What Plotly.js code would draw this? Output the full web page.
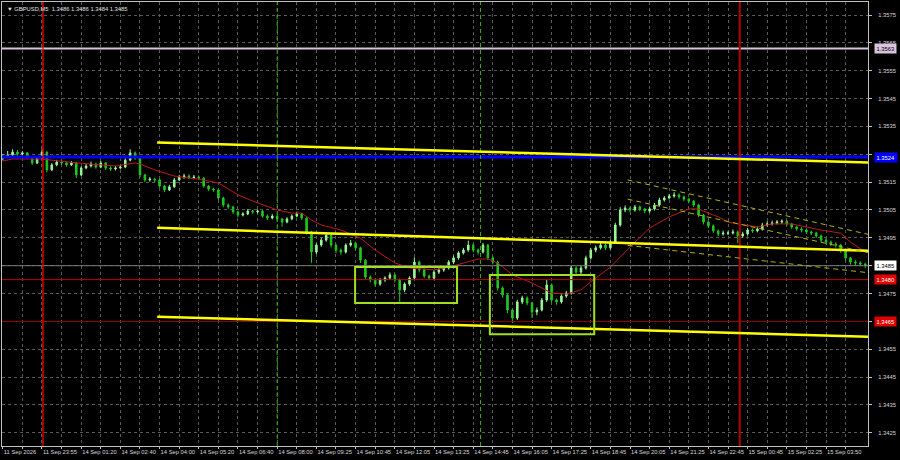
<!DOCTYPE html>
<html>
<head>
<meta charset="utf-8">
<script src="https://cdn.plot.ly/plotly-3.0.1.min.js"></script>
<style>html,body{margin:0;padding:0;background:#000;}#chart{width:900px;height:460px;}</style>
</head>
<body>
<div id="chart"></div>
<script>
// ---- data (10-minute bars, GBPUSD) ----
const timeLabels = ["11 Sep 2026","11 Sep 23:55","14 Sep 01:20","14 Sep 02:40","14 Sep 04:00","14 Sep 05:20","14 Sep 06:40","14 Sep 08:00","14 Sep 09:25","14 Sep 10:45","14 Sep 12:05","14 Sep 13:25","14 Sep 14:45","14 Sep 16:05","14 Sep 17:25","14 Sep 18:45","14 Sep 20:05","14 Sep 21:25","14 Sep 22:45","15 Sep 00:45","15 Sep 02:25","15 Sep 03:50"];
const timeLabelBars = [0,8,16,24,32,40,48,56,64,72,80,88,96,104,112,120,128,136,144,152,160,168];
const gridBars = [4,12,20,28,36,44,52,60,68,76,84,92,100,108,116,124,132,140,148,156,164,172];
const priceTicks = [1.3425,1.3435,1.3445,1.3455,1.3465,1.3475,1.3485,1.3495,1.3505,1.3515,1.3525,1.3535,1.3545,1.3555,1.3565,1.3575];

const open = [1.35235,1.35240,1.35247,1.35258,1.35251,1.35255,1.35240,1.35219,1.35237,1.35258,
1.35194,1.35212,1.35222,1.35219,1.35212,1.35219,1.35176,1.35201,1.35208,1.35215,
1.35204,1.35219,1.35201,1.35197,1.35201,1.35204,1.35229,1.35255,1.35237,1.35176,
1.35158,1.35161,1.35158,1.35136,1.35122,1.35133,1.35158,1.35168,1.35172,1.35165,
1.35168,1.35165,1.35136,1.35125,1.35122,1.35093,1.35068,1.35061,1.35043,1.35032,
1.35036,1.35046,1.35043,1.35046,1.35028,1.35021,1.35028,1.35018,1.35007,1.35018,
1.35028,1.35036,1.35021,1.34971,1.34899,1.34924,1.34942,1.34960,1.34924,1.34906,
1.34899,1.34924,1.34931,1.34914,1.34870,1.34809,1.34799,1.34784,1.34799,1.34806,
1.34817,1.34799,1.34763,1.34784,1.34806,1.34863,1.34835,1.34813,1.34806,1.34827,
1.34835,1.34842,1.34863,1.34878,1.34896,1.34906,1.34924,1.34906,1.34899,1.34924,
1.34878,1.34863,1.34770,1.34745,1.34691,1.34662,1.34720,1.34734,1.34716,1.34684,
1.34691,1.34727,1.34781,1.34727,1.34720,1.34741,1.34752,1.34842,1.34827,1.34842,
1.34878,1.34906,1.34914,1.34924,1.34914,1.34935,1.34996,1.35050,1.35057,1.35050,
1.35061,1.35054,1.35046,1.35054,1.35068,1.35086,1.35093,1.35100,1.35104,1.35097,
1.35089,1.35082,1.35068,1.35032,1.35007,1.34993,1.34975,1.34964,1.34967,1.34967,
1.34971,1.34957,1.34964,1.34978,1.34975,1.34982,1.34996,1.35000,1.35003,1.35007,
1.35010,1.35000,1.34989,1.34982,1.34978,1.34971,1.34967,1.34957,1.34942,1.34935,
1.34928,1.34924,1.34906,1.34878,1.34863,1.34860,1.34856];

const high = [1.35250,1.35262,1.35268,1.35265,1.35262,1.35258,1.35244,1.35242,1.35268,1.35260,
1.35218,1.35230,1.35228,1.35224,1.35226,1.35222,1.35206,1.35215,1.35224,1.35220,
1.35226,1.35222,1.35207,1.35208,1.35212,1.35236,1.35268,1.35260,1.35240,1.35180,
1.35168,1.35166,1.35162,1.35140,1.35140,1.35165,1.35176,1.35180,1.35178,1.35176,
1.35174,1.35168,1.35140,1.35130,1.35126,1.35098,1.35074,1.35065,1.35048,1.35042,
1.35053,1.35050,1.35052,1.35050,1.35034,1.35035,1.35032,1.35022,1.35024,1.35034,
1.35044,1.35040,1.35024,1.34975,1.34930,1.34950,1.34968,1.34964,1.34928,1.34912,
1.34930,1.34942,1.34936,1.34918,1.34874,1.34815,1.34804,1.34806,1.34812,1.34826,
1.34822,1.34804,1.34790,1.34812,1.34880,1.34868,1.34840,1.34818,1.34834,1.34842,
1.34850,1.34870,1.34886,1.34902,1.34914,1.34940,1.34930,1.34912,1.34932,1.34928,
1.34884,1.34868,1.34776,1.34750,1.34696,1.34728,1.34742,1.34740,1.34720,1.34700,
1.34734,1.34799,1.34786,1.34732,1.34748,1.34760,1.34850,1.34848,1.34850,1.34886,
1.34914,1.34922,1.34932,1.34930,1.34944,1.35004,1.35060,1.35066,1.35062,1.35068,
1.35066,1.35058,1.35060,1.35075,1.35094,1.35100,1.35108,1.35114,1.35110,1.35102,
1.35094,1.35086,1.35072,1.35036,1.35012,1.34998,1.34980,1.34976,1.34974,1.34980,
1.34976,1.34972,1.34986,1.34984,1.34990,1.35004,1.35010,1.35012,1.35014,1.35016,
1.35014,1.35004,1.34994,1.34988,1.34984,1.34976,1.34972,1.34962,1.34948,1.34940,
1.34934,1.34928,1.34910,1.34882,1.34870,1.34866,1.34860];

const low = [1.35228,1.35236,1.35243,1.35244,1.35245,1.35234,1.35212,1.35215,1.35232,1.35185,
1.35190,1.35207,1.35212,1.35205,1.35208,1.35165,1.35172,1.35196,1.35203,1.35198,
1.35200,1.35194,1.35190,1.35192,1.35196,1.35200,1.35225,1.35230,1.35168,1.35150,
1.35152,1.35150,1.35130,1.35114,1.35118,1.35130,1.35154,1.35162,1.35160,1.35160,
1.35158,1.35130,1.35118,1.35115,1.35086,1.35060,1.35054,1.35036,1.35024,1.35027,
1.35032,1.35036,1.35038,1.35022,1.35014,1.35016,1.35010,1.34990,1.35002,1.35013,
1.35024,1.35015,1.34962,1.34860,1.34892,1.34918,1.34936,1.34915,1.34895,1.34890,
1.34894,1.34918,1.34906,1.34860,1.34800,1.34790,1.34775,1.34778,1.34792,1.34800,
1.34790,1.34720,1.34755,1.34778,1.34800,1.34826,1.34805,1.34798,1.34800,1.34820,
1.34828,1.34836,1.34856,1.34872,1.34890,1.34900,1.34898,1.34890,1.34894,1.34870,
1.34855,1.34760,1.34735,1.34680,1.34644,1.34655,1.34712,1.34708,1.34662,1.34672,
1.34686,1.34720,1.34718,1.34710,1.34714,1.34735,1.34746,1.34818,1.34820,1.34836,
1.34872,1.34898,1.34908,1.34906,1.34908,1.34930,1.34990,1.35042,1.35042,1.35044,
1.35046,1.35038,1.35040,1.35048,1.35062,1.35080,1.35088,1.35094,1.35090,1.35082,
1.35074,1.35060,1.35024,1.34998,1.34985,1.34968,1.34956,1.34958,1.34960,1.34962,
1.34931,1.34950,1.34958,1.34968,1.34970,1.34976,1.34990,1.34994,1.34998,1.35000,
1.34994,1.34982,1.34975,1.34970,1.34964,1.34960,1.34950,1.34935,1.34928,1.34920,
1.34915,1.34896,1.34868,1.34854,1.34852,1.34848,1.34842];

const close = [1.35240,1.35247,1.35258,1.35251,1.35255,1.35240,1.35219,1.35237,1.35258,1.35194,
1.35212,1.35222,1.35219,1.35212,1.35219,1.35176,1.35201,1.35208,1.35215,1.35204,
1.35219,1.35201,1.35197,1.35201,1.35204,1.35229,1.35255,1.35237,1.35176,1.35158,
1.35161,1.35158,1.35136,1.35122,1.35133,1.35158,1.35168,1.35172,1.35165,1.35168,
1.35165,1.35136,1.35125,1.35122,1.35093,1.35068,1.35061,1.35043,1.35032,1.35036,
1.35046,1.35043,1.35046,1.35028,1.35021,1.35028,1.35018,1.35007,1.35018,1.35028,
1.35036,1.35021,1.34971,1.34899,1.34924,1.34942,1.34960,1.34924,1.34906,1.34899,
1.34924,1.34931,1.34914,1.34870,1.34809,1.34799,1.34784,1.34799,1.34806,1.34817,
1.34799,1.34763,1.34784,1.34806,1.34863,1.34835,1.34813,1.34806,1.34827,1.34835,
1.34842,1.34863,1.34878,1.34896,1.34906,1.34924,1.34906,1.34899,1.34924,1.34878,
1.34863,1.34770,1.34745,1.34691,1.34662,1.34720,1.34734,1.34716,1.34684,1.34691,
1.34727,1.34781,1.34727,1.34720,1.34741,1.34752,1.34842,1.34827,1.34842,1.34878,
1.34906,1.34914,1.34924,1.34914,1.34935,1.34996,1.35050,1.35057,1.35050,1.35061,
1.35054,1.35046,1.35054,1.35068,1.35086,1.35093,1.35100,1.35104,1.35097,1.35089,
1.35082,1.35068,1.35032,1.35007,1.34993,1.34975,1.34964,1.34967,1.34967,1.34971,
1.34957,1.34964,1.34978,1.34975,1.34982,1.34996,1.35000,1.35003,1.35007,1.35010,
1.35000,1.34989,1.34982,1.34978,1.34971,1.34967,1.34957,1.34942,1.34935,1.34928,
1.34924,1.34906,1.34878,1.34863,1.34860,1.34856,1.34850];

// moving average
const maBars = [0,2,8,15,20,23,27,28,31,35,38,40,44,48,51,56,59,61,63,65,69,73,76,80,83,88,91,94,97,99,101,104,108,112,115,118,120,124,128,132,136,140,142,143,146,148,150,154,157,161,164,167,171,173,176];
const maValues = [1.35226,1.35233,1.35233,1.35219,1.35212,1.35208,1.35219,1.35215,1.35194,1.35172,1.35165,1.35161,1.35147,1.35104,1.35082,1.35050,1.35039,1.35039,1.35014,1.34996,1.34978,1.34949,1.34906,1.34860,1.34842,1.34835,1.34845,1.34860,1.34874,1.34874,1.34860,1.34817,1.34788,1.34752,1.34748,1.34763,1.34792,1.34845,1.34917,1.34985,1.35025,1.35054,1.35054,1.35046,1.35025,1.35007,1.35000,1.34989,1.35000,1.35000,1.34989,1.34978,1.34967,1.34935,1.34899];

// horizontal price levels
const levelPrices = [1.3563, 1.3524, 1.3485, 1.3480, 1.3465];
// vertical time markers (bar positions)
const markerBars = [8.2, 56, 97.5, 150.4];
// trend lines [bar, price]
const trendStart = [[31.5, 1.35292], [31.5, 1.34986], [31.5, 1.34667]];
const trendEnd   = [[177, 1.35220], [177, 1.34903], [177, 1.34595]];
// regression channel (dashed)
const chanStart = [[127.5, 1.35158], [127.5, 1.35089], [127.5, 1.34923]];
const chanEnd   = [[177, 1.34961], [177, 1.34895], [177, 1.34824]];
// consolidation boxes [bar0, bar1, priceTop, priceBottom]
const boxes = [[71.9, 92.7, 1.34845, 1.34716], [99.4, 120.7, 1.34817, 1.34604]];

const barIndex = close.map((_, i) => i);

// ---- styles ----
const FONT = 'Liberation Sans, Arial, sans-serif';
const FS = 5.8;
const levelStyle = [
  {line:'#d8c4dc', w:2, bg:'#d8c4dc', fc:'#000'},
  {line:'#0000ff', w:3, bg:'#0000ff', fc:'#fff'},
  {line:'#7a7a7a', w:1, bg:'#ffffff', fc:'#000'},
  {line:'#c80000', w:1, bg:'#e00000', fc:'#fff'},
  {line:'#900000', w:1, bg:'#e00000', fc:'#fff'}
];
const markerStyle = [
  {c:'#ff0000', w:1.3, d:'solid'},
  {c:'#3cb400', w:1, d:'4px,3px'},
  {c:'#3cb400', w:1, d:'4px,3px'},
  {c:'#b40000', w:2, d:'solid'}
];

const shapes = [];
levelPrices.forEach((p, i) => shapes.push({type:'line', xref:'paper', x0:0, x1:1, yref:'y', y0:p, y1:p,
  line:{color:levelStyle[i].line, width:levelStyle[i].w}, layer:'above'}));
markerBars.forEach((b, i) => shapes.push({type:'line', xref:'x', x0:b, x1:b, yref:'paper', y0:0, y1:1,
  line:{color:markerStyle[i].c, width:markerStyle[i].w, dash:markerStyle[i].d}, layer:'above'}));
trendStart.forEach((s, i) => shapes.push({type:'line', xref:'x', yref:'y', x0:s[0], y0:s[1], x1:trendEnd[i][0], y1:trendEnd[i][1],
  line:{color:'#ffff00', width:2.5}, layer:'above'}));
chanStart.forEach((s, i) => shapes.push({type:'line', xref:'x', yref:'y', x0:s[0], y0:s[1], x1:chanEnd[i][0], y1:chanEnd[i][1],
  line:{color:'#b4b400', width:1, dash:'5px,4px'}, layer:'above'}));
boxes.forEach(b => shapes.push({type:'rect', xref:'x', yref:'y', x0:b[0], x1:b[1], y0:b[3], y1:b[2],
  line:{color:'#a0e020', width:2}, fillcolor:'rgba(0,0,0,0)', layer:'above'}));

const annotations = levelPrices.map((p, i) => ({
  xref:'paper', x:1, xanchor:'left', xshift:6, yref:'y', y:p, yanchor:'middle',
  text:p.toFixed(4), showarrow:false, bgcolor:levelStyle[i].bg, borderpad:1.5,
  font:{family:FONT, size:FS, color:levelStyle[i].fc}
}));
annotations.push({xref:'paper', yref:'paper', x:0, y:1, xanchor:'left', yanchor:'top', xshift:3, yshift:-2,
  text:'▼ GBPUSD,M5  1.3486 1.3486 1.3484 1.3485', showarrow:false,
  font:{family:FONT, size:FS, color:'#e0e0e0'}});

// tick labels hidden behind a level label are left blank (as in the terminal)
const coveredTicks = [1.3525, 1.3485, 1.3465];
const priceText = priceTicks.map(v => coveredTicks.includes(v) ? '' : v.toFixed(4));

const tickvals = [], ticktext = [];
timeLabelBars.forEach((b, i) => { tickvals.push(b); ticktext.push(timeLabels[i]); });
gridBars.forEach(b => { tickvals.push(b); ticktext.push(''); });

const traces = [
  {type:'candlestick', x:barIndex, open:open, high:high, low:low, close:close,
   increasing:{line:{color:'#98f898', width:1}, fillcolor:'#98f898'},
   decreasing:{line:{color:'#1ec81e', width:1}, fillcolor:'#1ec81e'},
   whiskerwidth:0, hoverinfo:'none'},
  {type:'scatter', mode:'lines', x:maBars, y:maValues, line:{color:'#c01818', width:1}, hoverinfo:'none'}
];

const layout = {
  width:900, height:460,
  paper_bgcolor:'#000', plot_bgcolor:'#000',
  margin:{l:2, r:32, t:2, b:14},
  showlegend:false,
  boxgap:0.55,
  font:{family:FONT, size:FS, color:'#d8d8d8'},
  xaxis:{range:[-0.16, 176.57], tickmode:'array', tickvals:tickvals, ticktext:ticktext,
    ticklabelposition:'outside right', tickangle:0, ticks:'outside', ticklen:2, tickcolor:'#c0c0c0',
    showgrid:true, gridcolor:'#5a5a5a', griddash:'3px,3px', gridwidth:1, zeroline:false,
    showline:true, mirror:true, linecolor:'#c0c0c0', linewidth:1,
    rangeslider:{visible:false}, fixedrange:true, automargin:false,
    tickfont:{family:FONT, size:FS, color:'#d8d8d8'}},
  yaxis:{side:'right', range:[1.342027, 1.357967], tickmode:'array', tickvals:priceTicks,
    ticktext:priceText, ticks:'outside', ticklen:3, tickcolor:'#c0c0c0',
    ticklabelstandoff:5, automargin:false,
    showgrid:true, gridcolor:'#5a5a5a', griddash:'3px,3px', gridwidth:1, zeroline:false,
    showline:true, mirror:true, linecolor:'#c0c0c0', linewidth:1, fixedrange:true,
    tickfont:{family:FONT, size:FS, color:'#d8d8d8'}},
  shapes:shapes,
  annotations:annotations
};

Plotly.newPlot('chart', traces, layout, {staticPlot:true, displayModeBar:false});
</script>
</body>
</html>
